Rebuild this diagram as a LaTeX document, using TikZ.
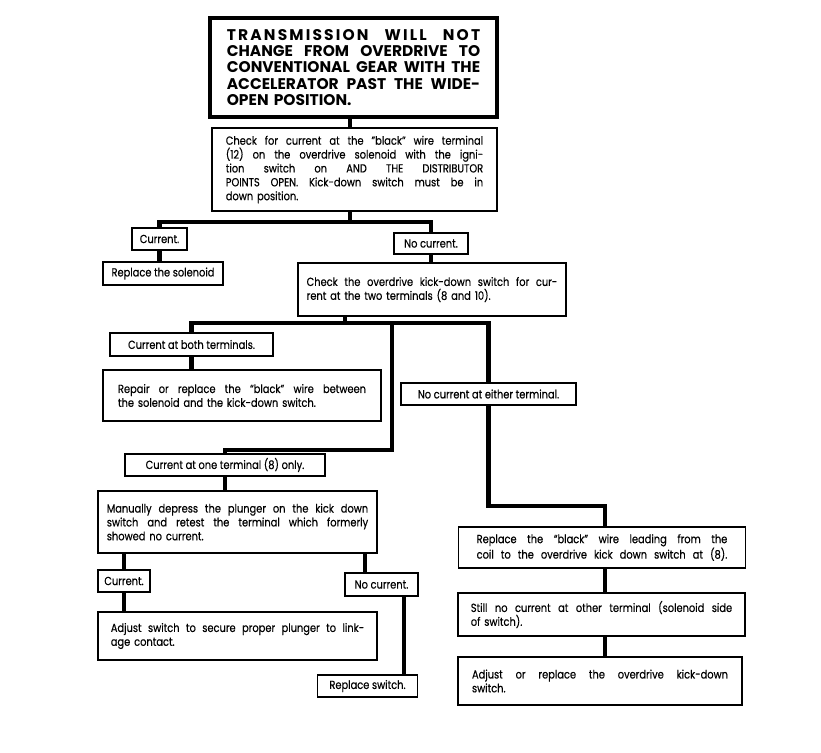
\documentclass[tikz,border=0pt]{standalone}
\usepackage{fontspec}
\setmainfont{Poppins}[FakeStretch=0.84, FakeBold=0.4]
\newfontfamily\headfont{Poppins}
\newcommand{\fullline}[1]{\makebox[\hsize][s]{\spaceskip=0pt\xspaceskip=0pt #1}}
\tikzset{
  box/.style={draw, line width=1.1pt, inner sep=0pt, align=left,
    font=\fontsize{8.8}{10.4}\selectfont},
  tag/.style={draw, line width=1.1pt, inner sep=0pt, align=center,
    font=\fontsize{8.8}{10.4}\selectfont},
  headbox/.style={draw, line width=3pt, inner sep=0pt, align=left,
    font=\headfont\fontsize{11.6}{12.3}\selectfont\bfseries},
  link/.style={line width=3.6pt},
}
\begin{document}
\begin{tikzpicture}[x=0.75pt, y=-0.75pt]
    \useasboundingbox (0,0) rectangle (821,753);

    % boxes, placed by their centres (pixel grid)
    \node[headbox, minimum width=215pt, minimum height=74pt, text width=190pt] (title) at (353.5,67.5)
      {\fullline{\addfontfeature{LetterSpace=14}TRANSMISSION WILL NOT}\\
       \fullline{CHANGE FROM OVERDRIVE TO}\\
       \fullline{CONVENTIONAL GEAR WITH THE}\\
       \fullline{ACCELERATOR PAST THE WIDE-}\\
       OPEN POSITION.};
    \node[box, minimum width=214pt, minimum height=62pt, text width=193pt] (check) at (354.5,169.5)
      {\fullline{Check for current at the "black" wire terminal}\\
       \fullline{(12) on the overdrive solenoid with the igni-}\\
       \fullline{tion switch on AND THE DISTRIBUTOR}\\
       \fullline{POINTS OPEN. Kick-down switch must be in}\\
       down position.};
    \node[tag, minimum width=41pt, minimum height=16.5pt] (cur1) at (159.5,239) {Current.};
    \node[tag, minimum width=90pt, minimum height=17pt] (repsol) at (163,273.5) {Replace the solenoid};
    \node[tag, minimum width=55.5pt, minimum height=15.75pt] (nocur1) at (431,243.5) {No current.};
    \node[box, minimum width=201pt, minimum height=39.75pt, text width=188pt] (checkkd) at (432,289.5)
      {\fullline{Check the overdrive kick-down switch for cur-}\\
       rent at the two terminals (8 and 10).};
    \node[tag, minimum width=122pt, minimum height=17pt] (both) at (191.5,344.5) {Current at both terminals.};
    \node[box, minimum width=208.5pt, minimum height=38pt, text width=186pt] (repair) at (242,395.5)
      {\fullline{Repair or replace the ``black'' wire between}\\
       the solenoid and the kick-down switch.};
    \node[tag, minimum width=131pt, minimum height=16.5pt] (either) at (488.5,394) {No current at either terminal.};
    \node[tag, minimum width=150pt, minimum height=16.5pt] (one) at (225,465) {Current at one terminal (8) only.};
    \node[box, minimum width=209pt, minimum height=46.5pt, text width=196pt] (manual) at (237.5,522)
      {\fullline{Manually depress the plunger on the kick down}\\
       \fullline{switch and retest the terminal which formerly}\\
       showed no current.};
    \node[tag, minimum width=39pt, minimum height=16.5pt] (cur2) at (124,581) {Current.};
    \node[tag, minimum width=55pt, minimum height=17pt] (nocur2) at (381.5,584.5) {No current.};
    \node[box, minimum width=209pt, minimum height=36pt, text width=190pt] (adjsw) at (237.5,636)
      {\fullline{Adjust switch to secure proper plunger to link-}\\
       age contact.};
    \node[tag, minimum width=75pt, minimum height=16.5pt] (repsw) at (367.5,686) {Replace switch.};
    \node[box, minimum width=215pt, minimum height=31pt, text width=188pt] (repwire) at (602,547.5)
      {\fullline{Replace the ``black'' wire leading from the}\\
       \fullline{coil to the overdrive kick down switch at (8).}};
    \node[box, minimum width=215pt, minimum height=32pt, text width=196pt] (still) at (601.5,614.5)
      {\fullline{Still no current at other terminal (solenoid side}\\
       of switch).};
    \node[box, minimum width=213pt, minimum height=36pt, text width=192pt] (adjod) at (600,681)
      {\fullline{Adjust or replace the overdrive kick-down}\\
       switch.};

    % bends of the heavy lines
    \coordinate (split1) at (350,222);
    \coordinate (split2) at (345,323);
    \coordinate (mid) at (392,323);
    \coordinate (bend1) at (392,450);
    \coordinate (bend2) at (605,506);
    \coordinate (drop1) at (365,560);
    \coordinate (drop2) at (404,660);

    \draw[link] (title.south -| split1) -- (check.north -| split1);
    \draw[link] (check.south -| split1) -- (split1);
    \draw[link] (cur1.north) |- (split1) -| (nocur1.north);
    \draw[link] (cur1.south) -- (cur1.south |- repsol.north);
    \draw[link] (nocur1.south) -- (nocur1.south |- checkkd.north);
    \draw[link] (checkkd.south -| split2) -- (split2);
    \draw[link] (both.north) |- (split2) -| (either.north);
    \draw[link] (both.south) -- (both.south |- repair.north);
    \draw[link] (mid) -- (bend1) -| (one.north);
    \draw[link] (either.south) |- (bend2) -- (bend2 |- repwire.north);
    \draw[link] (one.south) -- (one.south |- manual.north);
    \draw[link] (cur2.north |- manual.south) -- (cur2.north);
    \draw[link] (manual.south -| drop1) -- (nocur2.north -| drop1);
    \draw[link] (nocur2.south -| drop2) -- (repsw.north -| drop2);
    \draw[link] (cur2.south) -- (cur2.south |- adjsw.north);
    \draw[link] (repwire.south -| bend2) -- (still.north -| bend2);
    \draw[link] (still.south -| bend2) -- (adjod.north -| bend2);
\end{tikzpicture}
\end{document}
